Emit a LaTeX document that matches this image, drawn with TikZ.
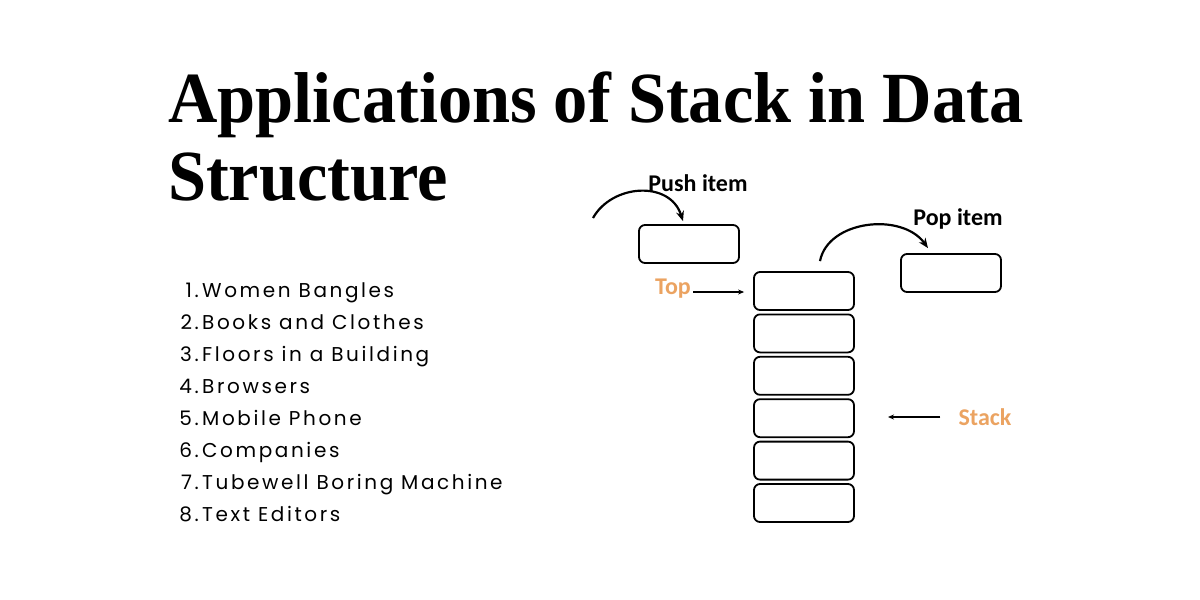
\documentclass[tikz,border=0pt]{standalone}
\usepackage{fontspec}
\usetikzlibrary{arrows.meta}
\newfontfamily\titlefont{Liberation Serif}
\newfontfamily\listfont{Poppins}[LetterSpace=13]
\newfontfamily\labelfont{Carlito}
\definecolor{orng}{rgb}{.92,.64,.38}

\tikzset{
  slot/.style={draw, rounded corners=6pt, line width=1.8pt, minimum width=100pt, minimum height=38pt},
  curve/.style={line width=2.2pt, -{Stealth[length=10pt,width=8pt]}},
  ptr/.style={line width=1.4pt, -{Stealth[length=6pt,width=5pt]}},
  lbl/.style={font=\labelfont\bfseries\fontsize{24}{28}\selectfont},
  item/.style={font=\listfont\fontsize{20}{24}\selectfont, anchor=base west},
  num/.style={font=\listfont\fontsize{20}{24}\selectfont, anchor=base east}
}

\begin{document}
\begin{tikzpicture}[x=1pt, y=-1pt]

	\useasboundingbox (0,0) rectangle (1200,600);

	% title
	\node[anchor=base west, inner sep=0, xscale=0.95, font=\titlefont\bfseries\fontsize{72}{80}\selectfont] (title1) at (168,122) {Applications of Stack in Data};
	\node[anchor=base west, inner sep=0, xscale=0.95, font=\titlefont\bfseries\fontsize{72}{80}\selectfont] (title2) at (168,200) {Structure};

	% list
	\foreach \n/\t [count=\i] in {1/Women Bangles, 2/Books and Clothes, 3/Floors in a Building, 4/Browsers, 5/Mobile Phone, 6/Companies, 7/Tubewell Boring Machine, 8/Text Editors} {
		\node[num, inner sep=0] (n\i) at (199,{297+32*(\i-1)}) {\n.};
		\node[item, inner sep=0] (t\i) at (202,{297+32*(\i-1)}) {\t};
	}

	% stack
	\foreach \i in {1,...,6}
		\node[slot] (s\i) at (804,{291+42.4*(\i-1)}) {};

	\node[slot] (push) at (689,244) {};
	\node[slot] (pop) at (951,273) {};

	\node[lbl] (pushlbl) at (698,183) {Push item};
	\node[lbl] (poplbl) at (958,219) {Pop item};
	\node[lbl, text=orng, inner sep=0] (toplbl) at (673,289) {Top};
	\node[lbl, text=orng, inner sep=0] (stacklbl) at (985,417) {Stack};

	\coordinate (pushfrom) at (593,218);
	\draw[curve] (pushfrom) .. controls (612,184) and (670,180) .. ([xshift=-6pt,yshift=3pt]push.north);
	\draw[curve] ([xshift=16pt,yshift=10pt]s1.north) .. controls (828,220) and (902,212) .. ([xshift=-23pt,yshift=5pt]pop.north);

	\draw[ptr, shorten <=2pt, shorten >=9pt] ([yshift=-3pt]toplbl.east) -- ([yshift=-3pt]toplbl.east -| s1.west);
	\coordinate (stackend) at (888,417);
	\draw[ptr, shorten <=18pt] (stacklbl.west) -- (stackend);

\end{tikzpicture}
\end{document}
